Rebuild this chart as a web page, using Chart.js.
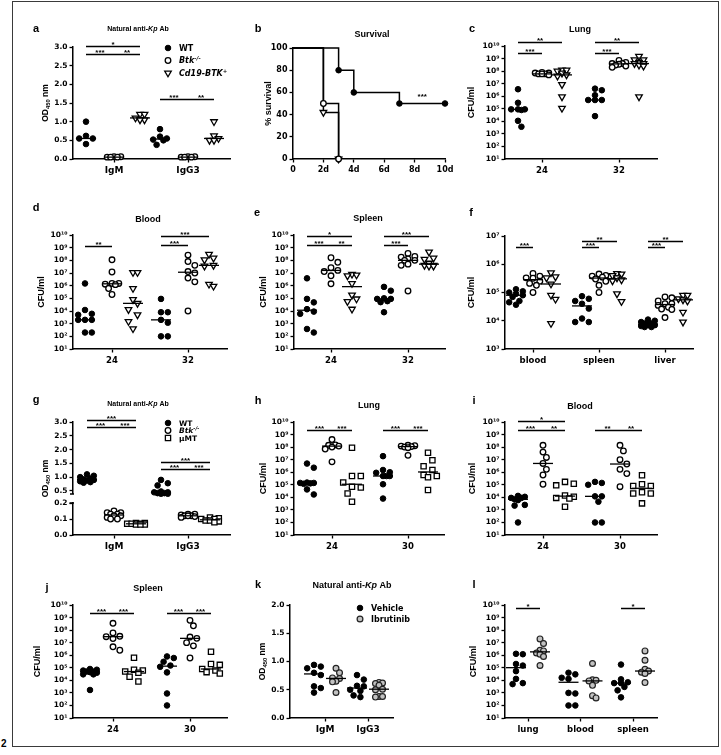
<!DOCTYPE html>
<html><head><meta charset="utf-8">
<script src="https://cdn.jsdelivr.net/npm/chart.js@4.4.1/dist/chart.umd.min.js"></script>
<style>
html,body{margin:0;padding:0;background:#fff}
body{width:721px;height:755px;position:relative;overflow:hidden}
#frame{position:absolute;left:12px;top:1px;width:707px;height:746px;border:1.5px solid #3a3a3a;box-sizing:border-box}
#fig{position:absolute;left:1px;top:738px;font:bold 10px "Liberation Sans",Arial,sans-serif;color:#000}
canvas{position:absolute}
</style></head><body>
<div id="frame"></div><div id="fig">2</div>
<script>
// ---- data ----
const logTicks = [1e1, 1e2, 1e3, 1e4, 1e5, 1e6, 1e7, 1e8, 1e9, 1e10];
const fTicks = [1e3, 1e4, 1e5, 1e6, 1e7];

// a: natural anti-Kp Ab
const aCats = ['IgM', 'IgG3'];
const aWT = [[1.0, 0.62, 0.55, 0.55, 0.4], [0.8, 0.6, 0.55, 0.52, 0.5, 0.38]];
const aBtk = [[0.06, 0.05, 0.05, 0.05, 0.06], [0.06, 0.05, 0.05, 0.06, 0.05]];
const aCd19 = [[1.2, 1.2, 1.1, 1.05, 1.05], [1.0, 0.62, 0.55, 0.5, 0.5]];
const aTicks = [0, 0.5, 1.0, 1.5, 2.0, 2.5, 3.0];
const aSig = [[0, 0, 1, 2.82, '***'], [0, 1, 2, 2.82, '**'], [0, 0, 2, 3.03, '*'], [1, 0, 1, 1.6, '***'], [1, 1, 2, 1.6, '**']];

// b: survival
const bDays = [[0, 3, 4, 7, 10], [0, 2, 3], [0, 2, 3]];
const bSurv = [[100, 80, 60, 50, 50], [100, 50, 0], [100, 42, 0]];
const bTicks = [0, 2, 4, 6, 8, 10];
const bYTicks = [0, 20, 40, 60, 80, 100];

// c: lung
const cCats = ['24', '32'];
const cWT = [[3.6e6, 3e5, 9e4, 9e4, 8e4, 9e4, 1.1e4, 3.7e3], [4e6, 3e6, 1.2e6, 5e5, 5e5, 5e5, 2.6e4]];
const cBtk = [[7e7, 8e7, 6e7, 6e7, 5e7, 7e7, 6e7], [7e8, 5e8, 4e8, 4e8, 3.5e8, 3e8, 2.5e8, 2e8]];
const cCd19 = [[1.2e8, 1.2e8, 1e8, 7e7, 5e7, 4e7, 8.5e6, 9e5, 1.1e5], [1.5e9, 8e8, 8e8, 5e8, 4e8, 4e8, 3e8, 2.5e8, 9e5]];
const cSig = [[0, 0, 1, 3e9, '***'], [0, 0, 2, 2e10, '**'], [1, 0, 1, 3e9, '***'], [1, 0, 2, 2e10, '**']];

// d: blood
const dWT = [[1.5e6, 1.2e4, 6e3, 5e3, 2e3, 2e3, 2e3, 2e2, 2e2], [9e4, 8e3, 8e3, 2e3, 1.2e3, 1e2, 1e2]];
const dBtk = [[1.1e8, 1.2e7, 1.5e6, 1.5e6, 1.3e6, 1.2e6, 6e5, 2e5], [2.6e8, 8e7, 4e7, 1.3e7, 1e7, 4e6, 2e6, 1e4]];
const dCd19 = [[1.1e7, 1.1e7, 6e5, 8e4, 4e4, 1.3e4, 5e3, 1.5e3, 4e2], [3e8, 1.5e8, 1.1e8, 4e7, 3.5e7, 1.3e6, 9e5]];
const dSig = [[0, 0, 1, 1.4e9, '**'], [1, 0, 1, 1.6e9, '***'], [1, 0, 2, 9e9, '***']];

// e: spleen
const eWT = [[3.8e6, 9e4, 4.8e4, 1.4e4, 9e3, 6e3, 3.8e2, 2e2], [8e5, 4e5, 1e5, 9e4, 9e4, 6e4, 5e4, 8e3]];
const eBtk = [[1.6e8, 7e7, 2.6e7, 1.6e7, 1.3e7, 6e6, 1.4e6], [3.5e8, 2e8, 1.8e8, 1.3e8, 1e8, 1e8, 5e7, 4e7, 3.8e5]];
const eCd19 = [[8e6, 7e6, 6e6, 1.5e6, 1.8e5, 9e4, 5.6e4, 1.4e4], [4.5e8, 1.5e8, 1.2e8, 6e7, 4e7, 4e7, 3.5e7, 3.5e7]];
const eSig = [[0, 0, 1, 1.6e9, '***'], [0, 1, 2, 1.6e9, '**'], [0, 0, 2, 9e9, '*'], [1, 0, 1, 1.6e9, '***'], [1, 0, 2, 9e9, '***']];

// f: organs
const fCats = ['blood', 'spleen', 'liver'];
const fWT = [[1.3e5, 1.1e5, 1e5, 9e4, 8e4, 7e4, 5e4, 4.5e4, 3.7e4], [7.4e4, 6e4, 5e4, 4e4, 2.7e4, 1.2e4, 9e3, 9e3], [1.1e4, 1e4, 9e3, 8e3, 8e3, 7e3, 7e3, 6.5e3, 6e3, 6e3]];
const fBtk = [[4.7e5, 3.8e5, 3.3e5, 3.2e5, 2.5e5, 2.1e5, 1.8e5, 1e5], [4.5e5, 4e5, 3.8e5, 3.5e5, 3e5, 2.5e5, 1.8e5, 1e5], [7e4, 6.5e4, 5e4, 4e4, 4e4, 3.5e4, 3e4, 2.6e4, 2.5e4, 1.3e4]];
const fCd19 = [[5e5, 3.6e5, 3.3e5, 2e5, 8e4, 5.8e4, 8e3], [4.7e5, 4.5e5, 4e5, 3.3e5, 2.8e5, 2.6e5, 9e4, 4.8e4], [8e4, 8e4, 6e4, 5.5e4, 5e4, 2e4, 9e3]];
const fSig = [[0, 0, 1, 4e6, '***'], [1, 0, 1, 4e6, '***'], [1, 0, 2, 6.5e6, '**'], [2, 0, 1, 4e6, '***'], [2, 0, 2, 6.5e6, '**']];

// g: natural anti-Kp Ab, uMT
const gWT = [[1.1, 1.05, 1.0, 0.95, 0.92, 0.9, 0.88, 0.85, 0.82, 0.8], [0.9, 0.78, 0.7, 0.48, 0.45, 0.45, 0.42, 0.42, 0.4, 0.4]];
const gBtk = [[0.15, 0.14, 0.14, 0.13, 0.13, 0.12, 0.12, 0.11, 0.1, 0.1], [0.13, 0.13, 0.125, 0.12, 0.12, 0.12, 0.115, 0.11]];
const gMu = [[0.075, 0.075, 0.07, 0.07, 0.07, 0.065, 0.065, 0.065], [0.11, 0.105, 0.1, 0.1, 0.09, 0.09, 0.085, 0.08]];
const gTopTicks = [0.5, 1.0, 1.5, 2.0, 2.5, 3.0];
const gBotTicks = [0, 0.1, 0.2];
const gSig = [[0, 0, 1, 2.82, '***'], [0, 1, 2, 2.82, '***'], [0, 0, 2, 3.06, '***'], [1, 0, 1, 1.3, '***'], [1, 1, 2, 1.3, '***'], [1, 0, 2, 1.55, '***']];

// h: lung
const hCats = ['24', '30'];
const hWT = [[4.9e6, 2.3e6, 1.5e5, 1.4e5, 1.4e5, 1.3e5, 1.2e5, 4.3e4, 1.7e4], [1.9e7, 1.5e6, 1e6, 9e5, 5e5, 5e5, 5e5, 1.1e5, 8e3]];
const hBtk = [[4e8, 1.5e8, 1.4e8, 1.2e8, 1e8, 7e7, 6.7e6], [1.4e8, 1.3e8, 1.2e8, 1.1e8, 1e8, 9e7, 2.2e7]];
const hMu = [[9e7, 5e5, 5e5, 1.5e5, 7e4, 6e4, 2e4, 4.5e3], [3.5e7, 9e6, 3e6, 1.5e6, 6e5, 5e5, 4e5, 3.8e4]];
const hSig = [[0, 0, 1, 2.2e9, '***'], [0, 1, 2, 2.2e9, '***'], [1, 0, 1, 2.2e9, '***'], [1, 1, 2, 2.2e9, '***']];

// i: blood
const iWT = [[1.3e4, 1.1e4, 9e3, 9e3, 7e3, 6e3, 2.5e3, 2.2e3, 1e2], [1.7e5, 1.4e5, 1e5, 1.2e4, 1.2e4, 4.5e3, 1e2, 1e2]];
const iBtk = [[1.4e8, 4e7, 1.5e7, 5e6, 1.7e6, 6e5, 1.1e5], [1.4e8, 5e7, 1e7, 4.5e6, 1.7e6, 7.8e5, 7e4]];
const iMu = [[1.7e5, 1.2e5, 9e4, 1.4e4, 1.1e4, 9e3, 8e3, 1.8e3], [5.8e5, 1.1e5, 8e4, 8e4, 2.5e4, 2e4, 2e4, 3.3e3]];
const iSig = [[0, 0, 1, 2.2e9, '***'], [0, 1, 2, 2.2e9, '**'], [0, 0, 2, 1.1e10, '*'], [1, 0, 1, 2.2e9, '**'], [1, 1, 2, 2.2e9, '**']];

// j: spleen
const jWT = [[8e4, 7e4, 6e4, 5e4, 5e4, 4.5e4, 4e4, 3e4, 3e4, 1.7e3], [8e5, 6e5, 3e5, 1.5e5, 1.2e5, 4.3e4, 9e2, 1e2]];
const jBtk = [[3.5e8, 6e7, 3.2e7, 3e7, 2.1e7, 4.7e6, 2.5e6], [6e8, 2.2e8, 2.8e7, 2.2e7, 1e7, 5.6e6, 6e5]];
const jMu = [[6.3e5, 7e4, 6e4, 5e4, 4e4, 1.9e4, 8e3], [1.9e6, 2e5, 1.7e5, 8e4, 6e4, 4.5e4, 3.5e4]];
const jSig = [[0, 0, 1, 2.4e9, '***'], [0, 1, 2, 2.4e9, '***'], [1, 0, 1, 2.4e9, '***'], [1, 1, 2, 2.4e9, '***']];

// k: vehicle vs ibrutinib antibody
const kVeh = [[0.94, 0.91, 0.88, 0.8, 0.76, 0.56, 0.53, 0.45], [0.76, 0.68, 0.57, 0.56, 0.5, 0.48, 0.4, 0.37]];
const kIbr = [[0.88, 0.8, 0.71, 0.7, 0.65, 0.64, 0.45], [0.63, 0.62, 0.61, 0.58, 0.51, 0.5, 0.38, 0.38, 0.37]];
const kTicks = [0, 0.5, 1.0, 1.5, 2.0];

// l: vehicle vs ibrutinib CFU
const lCats = ['lung', 'blood', 'spleen'];
const lVeh = [[1.3e6, 1.2e6, 2e5, 1.5e5, 5.4e4, 1.3e4, 6e3, 5e3], [4e4, 3e4, 1.6e4, 1.3e4, 1e3, 9e2, 1e2, 1e2], [1.8e5, 1.2e4, 7e3, 6e3, 6e3, 3e3, 1.6e3, 4.4e2]];
const lIbr = [[2e7, 8.7e6, 2.5e6, 2.2e6, 1.5e6, 1.2e6, 8e5, 1.5e5], [2.2e5, 1.1e4, 1e4, 9e3, 4e3, 6e2, 4e2], [2.2e6, 4e5, 7.6e4, 5.5e4, 4.5e4, 3.5e4, 6.6e3]];
const lSig = [[0, 0, 1, 5.4e9, '*'], [2, 0, 1, 5.4e9, '*']];

// ---- styles ----
const FT = '"DejaVu Sans", sans-serif';
const FA = '"Liberation Sans", Arial, sans-serif';
const STY = {
  wt: {ps: 'circle', bg: '#000', bc: '#000', r: 2.8, bw: 1},
  ko: {ps: 'circle', bg: '#fff', bc: '#000', r: 2.8, bw: 1.3},
  tg: {ps: 'triangle', rot: 180, bg: '#fff', bc: '#000', r: 3.8, bw: 1.3},
  mu: {ps: 'rect', bg: '#fff', bc: '#000', r: 3.7, bw: 1.3},
  ib: {ps: 'circle', bg: '#c2c2c2', bc: '#222', r: 2.9, bw: 1.2}
};
const NAT = [['Natural anti-', ''], ['Kp', 'i'], [' Ab', '']];
const OD = [['OD', ''], ['450', 'u'], [' nm', '']];
const CFU = [['CFU/ml', '']];
const BTK = [['Btk', 'i'], ['-/-', 'is']];
const CD19 = [['Cd19-BTK', 'i'], ['+', 's']];

const COL = [{x: 14, w: 228}, {x: 244, w: 220}, {x: 462, w: 254}];
const ROW = [{y: 8, h: 180}, {y: 192, h: 184}, {y: 382, h: 182}, {y: 566, h: 178}];
const cell = (c, r) => ({x: COL[c].x, y: ROW[r].y, w: COL[c].w, h: ROW[r].h});

function median(a) {
  const s = [...a].sort((x, y) => x - y), n = s.length;
  return n % 2 ? s[(n - 1) / 2] : (s[n / 2 - 1] + s[n / 2]) / 2;
}
const sup = n => String(n).split('').map(ch => '⁰¹²³⁴⁵⁶⁷⁸⁹'[+ch]).join('');

// compact beeswarm: points may overlap a little, width limited to +-half px
function swarm(sorted, vpx, d, half) {
  const placed = [];
  const step = d * 0.55;
  const cands = [0];
  for (let k = 1; k * step <= half + 0.01; k++) cands.push(k * step, -k * step);
  return sorted.map(v => {
    const y = vpx(v);
    let best = 0, bestD = -1;
    for (const x of cands) {
      let md = Infinity;
      for (const p of placed) md = Math.min(md, Math.hypot(p.x - x, p.y - y));
      if (md >= d) { best = x; break; }
      if (md > bestD) { bestD = md; best = x; }
    }
    placed.push({x: best, y});
    return best;
  });
}

function fontOf(st, size, fam) {
  const it = st.includes('i') ? 'italic ' : '';
  const sz = (st.includes('s') || st.includes('u')) ? size * 0.68 : size;
  return it + 'bold ' + sz + 'px ' + fam;
}
function runsW(c, runs, size, fam) {
  let w = 0;
  for (const [t, st] of runs) { c.font = fontOf(st, size, fam); w += c.measureText(t).width; }
  return w;
}
function drawRuns(c, runs, x, y, size, fam, align) {
  let cx = align === 'center' ? x - runsW(c, runs, size, fam) / 2 : x;
  c.textAlign = 'left'; c.textBaseline = 'alphabetic';
  for (const [t, st] of runs) {
    c.font = fontOf(st, size, fam);
    const dy = st.includes('s') ? -size * 0.4 : st.includes('u') ? size * 0.22 : 0;
    c.fillText(t, cx, y + dy);
    cx += c.measureText(t).width;
  }
}
function mark(c, key, x, y) {
  const s = STY[key];
  c.beginPath();
  if (s.ps === 'circle') c.arc(x, y, s.r, 0, Math.PI * 2);
  else if (s.ps === 'triangle') {
    c.moveTo(x - s.r * 0.866, y - s.r * 0.5); c.lineTo(x + s.r * 0.866, y - s.r * 0.5); c.lineTo(x, y + s.r); c.closePath();
  } else { const h = s.r * 0.707; c.rect(x - h, y - h, 2 * h, 2 * h); }
  c.fillStyle = s.bg; c.fill(); c.lineWidth = s.bw; c.strokeStyle = s.bc; c.stroke();
}

function makeCanvas(b) {
  const cv = document.createElement('canvas');
  cv.width = b.w; cv.height = b.h;
  cv.style.left = b.x + 'px'; cv.style.top = b.y + 'px';
  cv.style.width = b.w + 'px'; cv.style.height = b.h + 'px';
  document.body.appendChild(cv);
  return cv;
}

function axStyle(fs) {
  return {
    grid: {display: true, drawOnChartArea: false, drawTicks: true, tickLength: 3.5, tickWidth: 1.3, color: '#000', tickColor: '#000'},
    border: {display: true, color: '#000', width: 1.5},
    ticks: {color: '#000', font: {family: FT, size: fs, weight: 'bold'}, padding: 2, autoSkip: false, maxRotation: 0}
  };
}
function yScale(P, spec, list, fmt) {
  const s = axStyle(7.5);
  s.ticks.callback = v => fmt(v);
  return Object.assign(s, spec, {
    afterBuildTicks: sc => { sc.ticks = list.map(v => ({value: v})); },
    afterFit: sc => { sc.width = P.area.l - P.box.x; }
  });
}

// letters, titles, y titles, legends, significance bars
function decor(P, offU) {
  return {id: 'decor', afterDraw(chart) {
    const c = chart.ctx, ox = P.box.x, oy = P.box.y, A = P.area;
    c.save();
    c.fillStyle = '#000'; c.strokeStyle = '#000';
    if (P.brk) {
      const yt = chart.scales.yt, yb = chart.scales.yb, x0 = chart.chartArea.left;
      const y2 = yb.getPixelForValue(0.2);
      c.fillStyle = '#fff';
      c.fillRect(x0 - 3, yt.bottom - 3, 6, (y2 - yt.bottom) + 2);
      c.fillStyle = '#000'; c.lineWidth = 1.3;
      c.beginPath(); c.moveTo(x0 - 3, yt.bottom - 3); c.lineTo(x0 + 1, yt.bottom - 3);
      c.moveTo(x0 - 3.5, y2); c.lineTo(x0 + 1, y2); c.stroke();
    }
    c.font = 'bold 11px ' + FA; c.textAlign = 'center'; c.textBaseline = 'middle';
    c.fillText(P.letter[0], P.letter[1] - ox, P.letter[2] - oy);
    if (P.title) drawRuns(c, P.title.runs, P.title.x - ox, P.title.y - oy + P.title.size * 0.36, P.title.size, FA, 'center');
    if (P.yt) {
      c.save();
      c.translate(P.yt.x - ox, (P.yt.y || (A.t + A.b) / 2) - oy);
      c.rotate(-Math.PI / 2);
      drawRuns(c, P.yt.runs, 0, P.yt.size * 0.36, P.yt.size, FA, 'center');
      c.restore();
    }
    if (P.legend) {
      const L = P.legend;
      L.items.forEach(([key, runs], i) => {
        const y = L.y + i * L.dy - oy;
        mark(c, key, L.x - ox, y);
        c.fillStyle = '#000';
        drawRuns(c, runs, L.tx - ox, y + L.size * 0.36, L.size, FT, 'left');
      });
    }
    const xs = chart.scales.x, ys = chart.scales[P.sigAxis || 'y'];
    (P.sig || []).forEach(([g, a, b, y, t]) => {
      const x1 = xs.getPixelForValue(g + offU[a]), x2 = xs.getPixelForValue(g + offU[b]);
      const yp = Math.round(ys.getPixelForValue(y)) + 0.5;
      c.lineWidth = 1.5; c.strokeStyle = '#000';
      c.beginPath(); c.moveTo(x1, yp); c.lineTo(x2, yp); c.stroke();
      c.fillStyle = '#000'; c.font = 'bold 8px ' + FA; c.textAlign = 'center'; c.textBaseline = 'alphabetic';
      c.fillText(t, (x1 + x2) / 2, yp);
    });
    (P.stars || []).forEach(([x, y, t]) => {
      c.font = 'bold 8px ' + FA; c.textAlign = 'center'; c.textBaseline = 'middle';
      c.fillText(t, xs.getPixelForValue(x), ys.getPixelForValue(y));
    });
    c.restore();
  }};
}

function baseOptions(P, scales) {
  return {
    responsive: false, animation: false, events: [],
    layout: {padding: {left: 0, top: P.area.t - P.box.y, right: P.box.x + P.box.w - P.area.r, bottom: 0}},
    plugins: {legend: {display: false}, tooltip: {enabled: false}, title: {display: false}},
    scales
  };
}

function dotPanel(P) {
  const {box, area} = P;
  const n = P.cats.length;
  const sp = (P.gx[n - 1] - P.gx[0]) / (n - 1);
  const xmin = -(P.gx[0] - area.l) / sp, xmax = (n - 1) + (area.r - P.gx[n - 1]) / sp;
  const offU = P.offPx.map(o => o / sp);
  const H = area.b - area.t;
  let vpx, axisFor = () => 'y';
  if (P.y.type === 'log') {
    const a = Math.log10(P.y.lo), b = Math.log10(P.y.hi);
    vpx = v => area.b - (Math.log10(v) - a) / (b - a) * H;
  } else if (P.y.type === 'lin') {
    vpx = v => area.b - (v - P.y.min) / (P.y.max - P.y.min) * H;
  } else {
    const Y = P.y, split = area.t + H * Y.wTop / (Y.wTop + Y.wBot);
    vpx = v => v >= Y.cut
      ? split - (v - Y.top[0]) / (Y.top[1] - Y.top[0]) * (split - area.t)
      : area.b - (v - Y.bot[0]) / (Y.bot[1] - Y.bot[0]) * (area.b - split);
    axisFor = v => v >= Y.cut ? 'yt' : 'yb';
  }

  const meds = [], pts = [];
  P.series.forEach((s, si) => {
    const st = STY[s.st];
    const byAx = {};
    s.vals.forEach((vals, gi) => {
      const sorted = [...vals].sort((a, b) => b - a);
      const offs = swarm(sorted, vpx, st.r * 2 + 0.6, P.half || 9);
      sorted.forEach((v, i) => {
        (byAx[axisFor(v)] ||= []).push({x: gi + offU[si] + offs[i] / sp, y: v});
      });
      const m = median(vals), h = 10 / sp;
      meds.push({data: [{x: gi + offU[si] - h, y: m}, {x: gi + offU[si] + h, y: m}], yAxisID: axisFor(m),
        showLine: true, pointRadius: 0, borderColor: '#000', borderWidth: 1.3, clip: false});
    });
    for (const ax in byAx) {
      pts.push({data: byAx[ax], yAxisID: ax, showLine: false, clip: false,
        pointStyle: st.ps, pointRotation: st.rot || 0, pointRadius: st.r, pointHoverRadius: st.r,
        pointBackgroundColor: st.bg, pointBorderColor: st.bc, pointBorderWidth: st.bw});
    }
  });

  const xs = axStyle(P.xfs || 8.5);
  xs.ticks.padding = 3;
  xs.ticks.callback = (v, i) => P.cats[i];
  const scales = {
    x: Object.assign(xs, {type: 'linear', min: xmin, max: xmax,
      afterBuildTicks: sc => { sc.ticks = P.cats.map((c, i) => ({value: i})); },
      afterFit: sc => { sc.height = box.y + box.h - area.b; }})
  };
  if (P.y.type === 'log') {
    scales.y = yScale(P, {type: 'logarithmic', min: P.y.lo, max: P.y.hi}, P.y.ticks, v => '10' + sup(Math.round(Math.log10(v))));
  } else if (P.y.type === 'lin') {
    scales.y = yScale(P, {type: 'linear', min: P.y.min, max: P.y.max}, P.y.ticks, v => v.toFixed(1));
  } else {
    scales.yb = yScale(P, {type: 'linear', position: 'left', stack: 'brk', stackWeight: P.y.wBot, min: P.y.bot[0], max: P.y.bot[1]}, P.y.botTicks, v => v.toFixed(1));
    scales.yt = yScale(P, {type: 'linear', position: 'left', stack: 'brk', stackWeight: P.y.wTop, min: P.y.top[0], max: P.y.top[1]}, P.y.topTicks, v => v.toFixed(1));
  }
  new Chart(makeCanvas(box), {
    type: 'scatter',
    data: {datasets: meds.concat(pts)},
    options: baseOptions(P, scales),
    plugins: [decor(P, offU)]
  });
}

function survivalPanel(P) {
  const {box, area} = P;
  const ds = bDays.map((days, k) => {
    const st = STY[P.styles[k]];
    return {data: days.map((d, i) => ({x: d, y: bSurv[k][i]})), showLine: true, stepped: true,
      borderColor: '#000', borderWidth: 1.5, clip: false,
      pointStyle: st.ps, pointRotation: st.rot || 0, pointRadius: days.map((d, i) => i ? st.r : 0), pointHoverRadius: 0,
      pointBackgroundColor: st.bg, pointBorderColor: st.bc, pointBorderWidth: st.bw};
  });
  const xs = axStyle(8);
  xs.ticks.padding = 3;
  xs.ticks.callback = v => v === 0 ? '0' : v + 'd';
  const scales = {
    x: Object.assign(xs, {type: 'linear', min: 0, max: 10,
      afterBuildTicks: sc => { sc.ticks = bTicks.map(v => ({value: v})); },
      afterFit: sc => { sc.height = box.y + box.h - area.b; }}),
    y: yScale(P, {type: 'linear', min: 0, max: 100}, bYTicks, v => String(v))
  };
  scales.y.ticks.font.size = 8;
  new Chart(makeCanvas(box), {
    type: 'scatter', data: {datasets: ds}, options: baseOptions(P, scales), plugins: [decor(P, [])]
  });
}

// ---- panels ----
const S3 = (a, b, c, third) => [{st: 'wt', vals: a}, {st: 'ko', vals: b}, {st: third || 'tg', vals: c}];
const LOG = {type: 'log', lo: 1e1, hi: 1e10, ticks: logTicks};

dotPanel({box: cell(0, 0), area: {l: 73, r: 230, t: 47, b: 159}, cats: aCats, gx: [114, 188], offPx: [-28, 0, 26], xfs: 9,
  series: S3(aWT, aBtk, aCd19), y: {type: 'lin', min: 0, max: 3, ticks: aTicks},
  yt: {runs: OD, x: 45, size: 8.5}, title: {runs: NAT, x: 138, y: 28, size: 7}, letter: ['a', 36, 29], sig: aSig,
  legend: {x: 168, tx: 179, y: 48, dy: 12.5, size: 8, items: [['wt', [['WT', '']]], ['ko', BTK], ['tg', CD19]]}});

survivalPanel({box: cell(1, 0), area: {l: 293, r: 445, t: 48, b: 159}, styles: ['wt', 'ko', 'tg'],
  yt: {runs: [['% survival', '']], x: 268, size: 9}, title: {runs: [['Survival', '']], x: 372, y: 34, size: 9},
  letter: ['b', 258, 29], stars: [[8.5, 56, '***']]});

dotPanel({box: cell(2, 0), area: {l: 505, r: 657, t: 46, b: 159}, cats: cCats, gx: [542, 619], offPx: [-24, 0, 20],
  series: S3(cWT, cBtk, cCd19), y: LOG, yt: {runs: CFU, x: 471, size: 9},
  title: {runs: [['Lung', '']], x: 580, y: 29, size: 9}, letter: ['c', 472, 29], sig: cSig});

dotPanel({box: cell(0, 1), area: {l: 73, r: 227, t: 235, b: 349}, cats: cCats, gx: [112, 188], offPx: [-27, 0, 21],
  series: S3(dWT, dBtk, dCd19), y: LOG, yt: {runs: CFU, x: 41, size: 9},
  title: {runs: [['Blood', '']], x: 148, y: 219, size: 9}, letter: ['d', 36, 208], sig: dSig});

dotPanel({box: cell(1, 1), area: {l: 294, r: 445, t: 235, b: 349}, cats: cCats, gx: [331, 408], offPx: [-24, 0, 21],
  series: S3(eWT, eBtk, eCd19), y: LOG, yt: {runs: CFU, x: 263, size: 9},
  title: {runs: [['Spleen', '']], x: 368, y: 218, size: 9}, letter: ['e', 257, 213], sig: eSig});

dotPanel({box: cell(2, 1), area: {l: 505, r: 693, t: 236, b: 349}, cats: fCats, gx: [533, 599, 665], offPx: [-17, 0, 18],
  series: S3(fWT, fBtk, fCd19), y: {type: 'log', lo: 1e3, hi: 1e7, ticks: fTicks}, yt: {runs: CFU, x: 471, size: 9},
  letter: ['f', 471, 213], sig: fSig, half: 7});

dotPanel({box: cell(0, 2), area: {l: 73, r: 230, t: 422, b: 535}, cats: aCats, gx: [114, 188], offPx: [-27, 0, 22], xfs: 9,
  series: S3(gWT, gBtk, gMu, 'mu'),
  y: {type: 'brk', cut: 0.25, top: [0.28, 3.0], bot: [0, 0.2375], wTop: 75, wBot: 38, topTicks: gTopTicks, botTicks: gBotTicks},
  brk: true, sigAxis: 'yt',
  yt: {runs: OD, x: 45, size: 8.5}, title: {runs: NAT, x: 138, y: 403, size: 7}, letter: ['g', 36, 400], sig: gSig,
  legend: {x: 168, tx: 179, y: 423, dy: 7.5, size: 7.5, items: [['wt', [['WT', '']]], ['ko', BTK], ['mu', [['µMT', '']]]]}});

dotPanel({box: cell(1, 2), area: {l: 294, r: 444, t: 422, b: 535}, cats: hCats, gx: [332, 408], offPx: [-25, 0, 20],
  series: S3(hWT, hBtk, hMu, 'mu'), y: LOG, yt: {runs: CFU, x: 263, size: 9},
  title: {runs: [['Lung', '']], x: 369, y: 405, size: 9}, letter: ['h', 258, 401], sig: hSig});

dotPanel({box: cell(2, 2), area: {l: 505, r: 657, t: 422, b: 535}, cats: hCats, gx: [543, 620], offPx: [-25, 0, 22],
  series: S3(iWT, iBtk, iMu, 'mu'), y: LOG, yt: {runs: CFU, x: 472, size: 9},
  title: {runs: [['Blood', '']], x: 580, y: 406, size: 9}, letter: ['i', 474, 401], sig: iSig});

dotPanel({box: cell(0, 3), area: {l: 73, r: 227, t: 605, b: 718}, cats: hCats, gx: [113, 190], offPx: [-23, 0, 21],
  series: S3(jWT, jBtk, jMu, 'mu'), y: LOG, yt: {runs: CFU, x: 37, size: 9},
  title: {runs: [['Spleen', '']], x: 148, y: 588, size: 9}, letter: ['j', 47, 588], sig: jSig});

dotPanel({box: cell(1, 3), area: {l: 290, r: 393, t: 605, b: 718}, cats: aCats, gx: [325, 368], offPx: [-11, 11], xfs: 9,
  series: [{st: 'wt', vals: kVeh}, {st: 'ib', vals: kIbr}], y: {type: 'lin', min: 0, max: 2, ticks: kTicks},
  yt: {runs: OD, x: 262, size: 8.5}, title: {runs: NAT, x: 352, y: 585, size: 9}, letter: ['k', 258, 585], half: 7,
  legend: {x: 360, tx: 371, y: 608, dy: 11, size: 8, items: [['wt', [['Vehicle', '']]], ['ib', [['Ibrutinib', '']]]]}});

dotPanel({box: cell(2, 3), area: {l: 505, r: 657, t: 605, b: 718}, cats: lCats, gx: [528, 581, 633], offPx: [-12, 12],
  series: [{st: 'wt', vals: lVeh}, {st: 'ib', vals: lIbr}], y: LOG, yt: {runs: CFU, x: 473, size: 9},
  letter: ['l', 474, 585], sig: lSig, half: 7});
</script>
</body></html>
